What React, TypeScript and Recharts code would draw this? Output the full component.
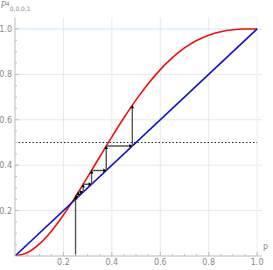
import { Line, LineChart, ReferenceLine, XAxis, YAxis } from 'recharts';

const pValues = [0, 0.05, 0.1, 0.15, 0.2, 0.25, 0.3, 0.35, 0.4, 0.45, 0.5, 0.55, 0.6, 0.65, 0.7, 0.75, 0.8, 0.85, 0.9, 0.95, 1];
const redValues = [0, 0.014, 0.0523, 0.1095, 0.1808, 0.2617, 0.3483, 0.437, 0.5248, 0.609, 0.6875, 0.7585, 0.8208, 0.8735, 0.9163, 0.9492, 0.9728, 0.988, 0.9963, 0.9995, 1];

// diagonal p -> p
const diagonal = [
  { x: 0, y: 0 },
  { x: 1, y: 1 },
];

// cobweb corners, starting at p = 0.25
const cobwebX = [0.25, 0.25, 0.2617, 0.2617, 0.2816, 0.2816, 0.3161, 0.3161, 0.3768, 0.3768, 0.4845, 0.4845];
const cobwebY = [0, 0.2617, 0.2617, 0.2816, 0.2816, 0.3161, 0.3161, 0.3768, 0.3768, 0.4845, 0.4845, 0.6639];

const halfLine = [
  { x: 0, y: 0.5 },
  { x: 1, y: 0.5 },
];

const tickValues = [0.05, 0.1, 0.15, 0.2, 0.25, 0.3, 0.35, 0.4, 0.45, 0.5, 0.55, 0.6, 0.65, 0.7, 0.75, 0.8, 0.85, 0.9, 0.95, 1];
const gridValues = [0.2, 0.4, 0.6, 0.8];

const red = pValues.map((x, i) => ({ x, y: redValues[i] }));
const cobweb = cobwebX.map((x, i) => ({ x, y: cobwebY[i] }));

const FONT = '"DejaVu Sans", sans-serif';
const LABEL = '#888';
const AXIS = '#bbb';

const isMajor = (v: number) => Math.abs(v * 5 - Math.round(v * 5)) < 1e-6;

function XTick(props: any) {
  const { x, y, payload } = props;
  const v = payload.value;
  const major = isMajor(v);
  return (
    <g>
      <line x1={x} x2={x} y1={y} y2={y - (major ? 4 : 2)} stroke={AXIS} />
      {major && (
        <text x={x} y={y + 9} textAnchor="middle" fontSize={8} fill={LABEL} fontFamily={FONT}>
          {v.toFixed(1)}
        </text>
      )}
    </g>
  );
}

function YTick(props: any) {
  const { x, y, payload } = props;
  const v = payload.value;
  const major = isMajor(v);
  return (
    <g>
      <line x1={x} x2={x + (major ? 4 : 2)} y1={y} y2={y} stroke={AXIS} />
      {major && (
        <text x={x - 3} y={y + 3} textAnchor="end" fontSize={8} fill={LABEL} fontFamily={FONT}>
          {v.toFixed(1)}
        </text>
      )}
    </g>
  );
}

function Arrow(props: any) {
  const { cx, cy, index } = props;
  if (!index) return <g key={`a${index}`} />;
  const prev = cobweb[index - 1];
  const cur = cobweb[index];
  const s = 3;
  const d =
    prev.x === cur.x
      ? `M${cx},${cy} L${cx - s / 1.6},${cy + s} L${cx + s / 1.6},${cy + s} Z`
      : `M${cx},${cy} L${cx - s},${cy - s / 1.6} L${cx - s},${cy + s / 1.6} Z`;
  return <path key={`a${index}`} d={d} fill="#000" />;
}

export default function App() {
  return (
    <div style={{ position: 'absolute', left: 0, top: 0 }}>
      <LineChart width={273} height={270} margin={{ top: 17.6, right: 11, left: 0, bottom: 0 }}>
        <XAxis
          type="number"
          dataKey="x"
          domain={[0, 1.02]}
          ticks={tickValues}
          interval={0}
          tick={<XTick />}
          tickLine={false}
          tickSize={0}
          tickMargin={0}
          height={14}
          stroke={AXIS}
          allowDataOverflow
          label={{
            content: () => (
              <text x={263} y={249} fontSize={8} fill={LABEL} fontFamily={FONT}>
                p
              </text>
            ),
          }}
        />
        <YAxis
          type="number"
          dataKey="y"
          domain={[0, 1.05]}
          ticks={tickValues}
          interval={0}
          tick={<YTick />}
          tickLine={false}
          tickSize={0}
          tickMargin={0}
          width={15}
          stroke={AXIS}
          allowDataOverflow
          label={{
            content: () => (
              <text x={1} y={8} fontSize={8} fill={LABEL} fontFamily={FONT}>
                <tspan fontStyle="italic">P</tspan>
                <tspan fontSize={6} dy={-2.5}>4</tspan>
                <tspan fontSize={6} dy={5.5}>0,0,0,1</tspan>
              </text>
            ),
          }}
        />
        {gridValues.map((v) => (
          <ReferenceLine key={`gx${v}`} x={v} stroke="#e8e8e8" strokeWidth={1} />
        ))}
        <ReferenceLine x={1} stroke="#eeeeee" strokeWidth={1} />
        {gridValues.map((v) => (
          <ReferenceLine key={`gy${v}`} y={v} stroke="#e8e8e8" strokeWidth={1} />
        ))}
        <ReferenceLine y={1} stroke="#d8ecfa" strokeWidth={1.2} />
        <Line
          data={halfLine}
          dataKey="y"
          type="linear"
          stroke="#222"
          strokeWidth={1.2}
          strokeDasharray="1.5 2"
          dot={false}
          isAnimationActive={false}
        />
        <Line data={red} dataKey="y" type="monotone" stroke="#ee1111" strokeWidth={1.6} dot={false} isAnimationActive={false} />
        <Line data={diagonal} dataKey="y" type="linear" stroke="#1010c8" strokeWidth={1.6} dot={false} isAnimationActive={false} />
        <Line
          data={cobweb}
          dataKey="y"
          type="linear"
          stroke="#555"
          strokeWidth={1.4}
          dot={<Arrow />}
          activeDot={false}
          isAnimationActive={false}
        />
      </LineChart>
    </div>
  );
}
